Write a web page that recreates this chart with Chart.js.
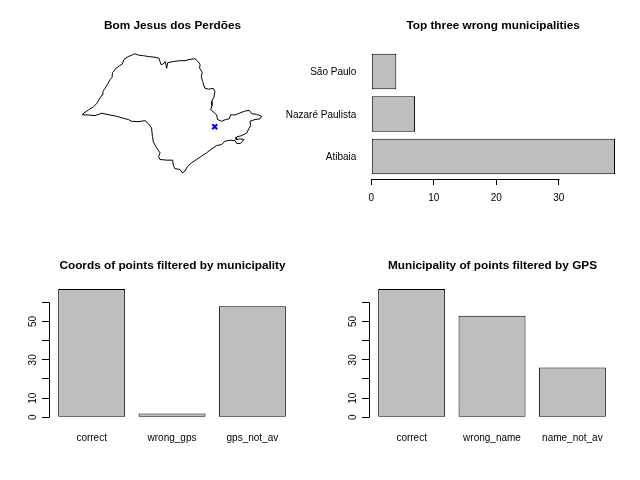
<!DOCTYPE html>
<html>
<head>
<meta charset="utf-8">
<script src="https://cdn.jsdelivr.net/npm/chart.js@4"></script>
<style>
  html, body { margin: 0; padding: 0; background: #fff; }
  canvas { position: absolute; }
</style>
</head>
<body>
<canvas id="mapChart" width="320" height="240" style="left:0;top:0"></canvas>
<canvas id="wrongChart" width="400" height="240" style="left:240px;top:0"></canvas>
<canvas id="coordsChart" width="320" height="240" style="left:0;top:240px"></canvas>
<canvas id="nameChart" width="320" height="240" style="left:320px;top:240px"></canvas>
<script>
const mapTitle = 'Bom Jesus dos Perdões';
const outlineLon = [-53.10,-53.00,-52.78,-52.54,-52.37,-52.24,-52.10,-52.06,-51.96,-51.82,-51.71,-51.61,-51.58,-51.41,-51.24,-51.09,-51.01,-50.80,-50.63,-50.48,-50.30,-50.05,-49.80,-49.47,-49.27,-49.22,-49.17,-49.06,-48.96,-48.89,-48.84,-48.56,-48.23,-47.98,-47.73,-47.48,-47.37,-47.23,-47.25,-47.12,-47.17,-47.10,-47.00,-46.82,-46.57,-46.49,-46.54,-46.65,-46.64,-46.70,-46.54,-46.41,-46.36,-46.16,-45.96,-45.78,-45.71,-45.49,-45.25,-45.00,-44.78,-44.67,-44.42,-44.17,-44.25,-44.50,-44.75,-44.71,-44.81,-44.91,-45.16,-45.41,-45.44,-45.25,-45.05,-45.21,-45.41,-45.49,-45.74,-45.99,-46.16,-46.41,-46.65,-46.90,-47.15,-47.40,-47.65,-47.86,-47.98,-48.10,-48.23,-48.48,-48.56,-48.59,-48.89,-49.22,-49.29,-49.22,-49.39,-49.55,-49.60,-49.64,-49.80,-49.97,-50.30,-50.63,-50.80,-51.04,-51.38,-51.71,-52.12,-52.45,-52.78,-53.10];
const outlineLat = [-22.60,-22.52,-22.38,-22.24,-22.09,-21.88,-21.69,-21.53,-21.39,-21.18,-20.99,-20.89,-20.66,-20.46,-20.35,-20.26,-20.05,-19.92,-19.86,-19.79,-19.85,-19.88,-19.92,-19.95,-20.00,-20.15,-20.29,-20.26,-20.15,-20.46,-20.20,-20.15,-20.11,-20.11,-20.05,-20.02,-20.11,-20.27,-20.46,-20.64,-20.84,-21.07,-21.37,-21.42,-21.39,-21.53,-21.79,-21.98,-22.18,-22.37,-22.49,-22.60,-22.82,-22.90,-22.82,-22.79,-22.60,-22.61,-22.52,-22.43,-22.40,-22.55,-22.58,-22.67,-22.79,-22.82,-22.90,-23.10,-23.25,-23.44,-23.56,-23.62,-23.74,-23.71,-23.74,-23.92,-23.92,-23.79,-23.77,-23.82,-23.97,-24.02,-24.17,-24.35,-24.50,-24.66,-24.81,-24.99,-25.19,-25.28,-25.12,-25.08,-24.93,-24.69,-24.69,-24.66,-24.54,-24.35,-24.12,-23.86,-23.59,-23.21,-23.01,-22.87,-22.92,-22.90,-22.82,-22.76,-22.67,-22.61,-22.53,-22.64,-22.61,-22.60];
const markerLon = [-46.50];
const markerLat = [-23.15];

const wrongTitle = 'Top three wrong municipalities';
const wrongNames = ['Atibaia', 'Nazaré Paulista', 'São Paulo'];
const wrongCounts = [39, 7, 4];

const coordsTitle = 'Coords of points filtered by municipality';
const coordsCategories = ['correct', 'wrong_gps', 'gps_not_av'];
const coordsCounts = [67, 2, 58];

const nameTitle = 'Municipality of points filtered by GPS';
const nameCategories = ['correct', 'wrong_name', 'name_not_av'];
const nameCounts = [67, 53, 26];

const shownCountLabels = [0, 10, 30, 50];

Chart.defaults.font.family = '"Liberation Sans", Arial, sans-serif';
Chart.defaults.font.size = 10;
Chart.defaults.color = '#000';
Chart.defaults.animation = false;
Chart.defaults.devicePixelRatio = 1;
Chart.defaults.responsive = false;
Chart.defaults.plugins.legend.display = false;
Chart.defaults.plugins.tooltip.enabled = false;

const titleOptions = (text) => ({
  display: true,
  text: text,
  fullSize: false,
  font: { size: 11.8, weight: 'bold' },
  padding: { top: 19, bottom: 15.8 }
});

// R only draws the axis line between its first and last tick
const axisLine = {
  id: 'axisLine',
  afterDraw(chart) {
    const ctx = chart.ctx;
    const area = chart.chartArea;
    const scale = chart.scales[chart.options.indexAxis === 'y' ? 'x' : 'y'];
    const ticks = scale.ticks;
    const a = Math.round(scale.getPixelForValue(ticks[0].value)) + 0.5;
    const b = Math.round(scale.getPixelForValue(ticks[ticks.length - 1].value)) + 0.5;
    ctx.save();
    ctx.strokeStyle = '#000';
    ctx.lineWidth = 1;
    ctx.beginPath();
    if (scale.isHorizontal()) {
      const y = Math.round(area.bottom) + 0.5;
      ctx.moveTo(a, y);
      ctx.lineTo(b, y);
    } else {
      const x = Math.round(area.left) + 0.5;
      ctx.moveTo(x, a);
      ctx.lineTo(x, b);
    }
    ctx.stroke();
    ctx.restore();
  }
};

const columnChart = (id, title, categories, counts) => new Chart(document.getElementById(id), {
  type: 'bar',
  data: {
    datasets: [{
      data: counts.map((v, i) => ({ x: i, y: v })),
      backgroundColor: '#bebebe',
      borderColor: '#000',
      borderWidth: 1,
      borderSkipped: false,
      barPercentage: 1 / 1.2,
      categoryPercentage: 1
    }]
  },
  options: {
    layout: { padding: { right: 24 } },
    plugins: { title: titleOptions(title) },
    scales: {
      x: {
        type: 'linear',
        offset: false,
        min: -0.531,
        max: 2.543,
        afterFit: (s) => { s.height = 62.7; },
        border: { display: false },
        grid: { display: false },
        ticks: {
          stepSize: 1,
          includeBounds: false,
          autoSkip: false,
          maxRotation: 0,
          padding: 7,
          callback: (v) => categories[v]
        }
      },
      y: {
        min: 0,
        max: 67,
        afterFit: (s) => { s.width = 49; },
        border: { display: false },
        grid: { drawOnChartArea: false, tickLength: 7, tickColor: '#000', lineWidth: 1 },
        ticks: {
          stepSize: 10,
          includeBounds: false,
          autoSkip: false,
          minRotation: 90,
          maxRotation: 90,
          crossAlign: 'center',
          padding: 3.5,
          callback: (v) => (shownCountLabels.includes(v) ? String(v) : '')
        }
      }
    }
  },
  plugins: [axisLine]
});

new Chart(document.getElementById('mapChart'), {
  type: 'scatter',
  data: {
    datasets: [
      {
        data: outlineLon.map((lon, i) => ({ x: lon, y: outlineLat[i] })),
        showLine: true,
        borderColor: '#000',
        borderWidth: 1,
        pointRadius: 0,
        tension: 0
      },
      {
        data: markerLon.map((lon, i) => ({ x: lon, y: markerLat[i] })),
        pointStyle: 'crossRot',
        pointRadius: 3.5,
        pointBorderColor: '#0000ff',
        pointBorderWidth: 2
      }
    ]
  },
  options: {
    layout: { padding: { left: 49, right: 24, bottom: 62.7 } },
    plugins: { title: titleOptions(mapTitle) },
    scales: {
      x: { display: false, min: -54.74, max: -42.46 },
      y: { display: false, min: -25.48, max: -19.57 }
    }
  }
});

new Chart(document.getElementById('wrongChart'), {
  type: 'bar',
  data: {
    datasets: [{
      data: wrongCounts.map((v, i) => ({ x: v, y: i })),
      backgroundColor: '#bebebe',
      borderColor: '#000',
      borderWidth: 1,
      borderSkipped: false,
      barPercentage: 1 / 1.2,
      categoryPercentage: 1
    }]
  },
  options: {
    indexAxis: 'y',
    layout: { padding: { right: 25 } },
    plugins: { title: titleOptions(wrongTitle) },
    scales: {
      x: {
        type: 'linear',
        min: 0,
        max: 39,
        afterFit: (s) => { s.height = 61; },
        border: { display: false },
        grid: { drawOnChartArea: false, tickLength: 6, tickColor: '#000', lineWidth: 1 },
        ticks: { stepSize: 10, includeBounds: false, autoSkip: false, maxRotation: 0, padding: 7 }
      },
      y: {
        type: 'linear',
        offset: false,
        min: -0.53,
        max: 2.53,
        afterFit: (s) => { s.width = 131.3; },
        border: { display: false },
        grid: { display: false },
        ticks: {
          stepSize: 1,
          includeBounds: false,
          autoSkip: false,
          padding: 7,
          labelOffset: 1,
          callback: (v) => wrongNames[v]
        }
      }
    }
  },
  plugins: [axisLine]
});

columnChart('coordsChart', coordsTitle, coordsCategories, coordsCounts);
columnChart('nameChart', nameTitle, nameCategories, nameCounts);
</script>
</body>
</html>
